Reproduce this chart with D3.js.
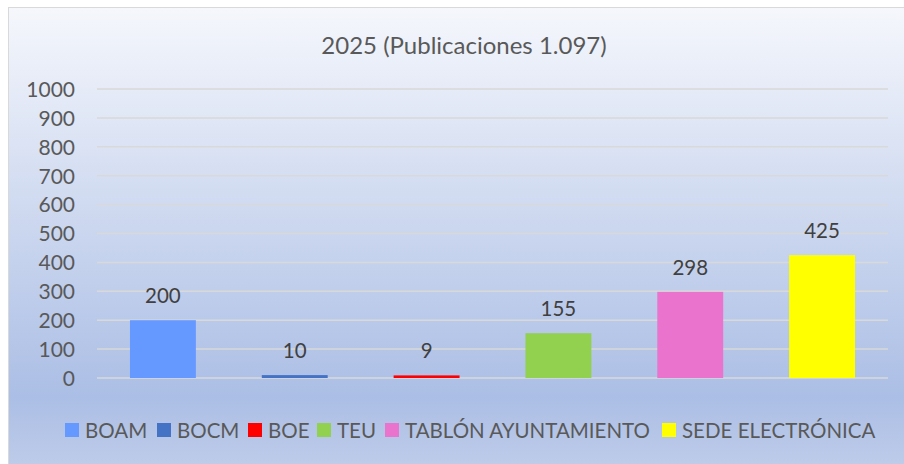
<!DOCTYPE html>
<html>
<head>
<meta charset="utf-8">
<script src="https://cdn.jsdelivr.net/npm/d3@7/dist/d3.min.js"></script>
<style>
  html, body { margin: 0; padding: 0; background: #ffffff; }
  svg { display: block; }
</style>
</head>
<body>
<svg id="chart" width="904" height="464"></svg>
<script>
const title = "2025 (Publicaciones 1.097)";
const categories = ["BOAM", "BOCM", "BOE", "TEU", "TABLÓN AYUNTAMIENTO", "SEDE ELECTRÓNICA"];
const values = [200, 10, 9, 155, 298, 425];
const colors = ["#6699ff", "#4472c4", "#ff0000", "#92d050", "#ea74cd", "#ffff00"];
const yTicks = [0, 100, 200, 300, 400, 500, 600, 700, 800, 900, 1000];

const svg = d3.select("#chart");
const W = 904, H = 464;
const font = "Lato, 'Open Sans', sans-serif";

const defs = svg.append("defs");
const grad = defs.append("linearGradient").attr("id", "bg").attr("x1", 0).attr("y1", 0).attr("x2", 0).attr("y2", 1);
grad.append("stop").attr("offset", "0%").attr("stop-color", "#f5f7fc");
grad.append("stop").attr("offset", "84%").attr("stop-color", "#abbee5");
grad.append("stop").attr("offset", "100%").attr("stop-color", "#c0cdea");

svg.append("rect").attr("x", 8.5).attr("y", 7.5).attr("width", W).attr("height", H)
  .attr("fill", "url(#bg)").attr("stroke", "#d9d9d9").attr("stroke-width", 1);

const x = d3.scaleBand().domain(categories).range([97, 888]).paddingInner(0.5).paddingOuter(0.25);
const y = d3.scaleLinear().domain([0, 1000]).range([378, 89]);

// gridlines
svg.append("g").selectAll("line").data(yTicks).join("line")
  .attr("x1", 97).attr("x2", 888)
  .attr("y1", d => y(d)).attr("y2", d => y(d))
  .attr("stroke", "#d9d9d9").attr("stroke-width", 1.5);

// y axis labels via d3 axis
const yAxis = d3.axisLeft(y).tickValues(yTicks).tickSize(0).tickPadding(0).tickFormat(d3.format("d"));
const gy = svg.append("g").attr("transform", "translate(75,0)").call(yAxis);
gy.select(".domain").remove();
gy.selectAll("text").attr("font-family", font).attr("font-size", 21).attr("fill", "#595959").attr("dy", "0.35em");

// bars
svg.append("g").selectAll("rect").data(values).join("rect")
  .attr("x", (d, i) => x(categories[i]))
  .attr("width", x.bandwidth())
  .attr("y", d => y(d))
  .attr("height", d => y(0) - y(d))
  .attr("fill", (d, i) => colors[i]);

// value labels
svg.append("g").selectAll("text").data(values).join("text")
  .attr("x", (d, i) => x(categories[i]) + x.bandwidth() / 2)
  .attr("y", d => y(d) - 25)
  .attr("text-anchor", "middle")
  .attr("dominant-baseline", "central")
  .attr("font-family", font).attr("font-size", 20.5).attr("fill", "#404040")
  .text(d => d);

// title
svg.append("text").attr("x", 464).attr("y", 44).attr("text-anchor", "middle")
  .attr("dominant-baseline", "central")
  .attr("font-family", font).attr("font-size", 24).attr("fill", "#595959")
  .text(title);

// legend
const legend = svg.append("g");
const swatchX = [65, 157, 248, 317, 385, 662];
categories.forEach((c, i) => {
  const g = legend.append("g").attr("transform", `translate(${swatchX[i]},423)`);
  g.append("rect").attr("width", 14).attr("height", 14).attr("fill", colors[i]);
  g.append("text").attr("x", 20).attr("y", 7).attr("dominant-baseline", "central")
    .attr("font-family", font).attr("font-size", 20.5).attr("fill", "#595959").text(c);
});
</script>
</body>
</html>
